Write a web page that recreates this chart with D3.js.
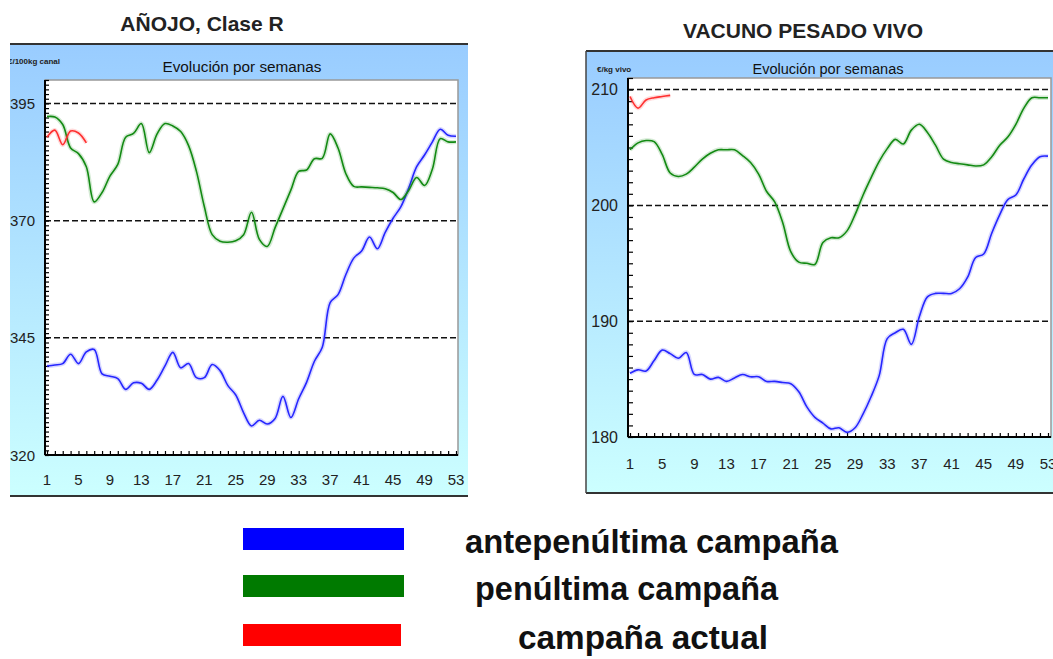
<!DOCTYPE html>
<html>
<head>
<meta charset="utf-8">
<script src="https://cdn.jsdelivr.net/npm/d3@7/dist/d3.min.js"></script>
<style>
  body { margin: 0; background: #fff; }
  svg { display: block; font-family: "Liberation Sans", Arial, sans-serif; }
</style>
</head>
<body>
<svg id="chart" width="1053" height="659"></svg>
<script>
const weeks = d3.range(1, 54);
const weekLabels = [1, 5, 9, 13, 17, 21, 25, 29, 33, 37, 41, 45, 49, 53];

// AÑOJO, Clase R  (€/100kg canal)
const anojoAntepenultima = [339.0, 339.2, 339.5, 341.5, 339.5, 342.0, 342.5, 337.3, 336.8, 336.3,
  334.0, 335.4, 335.3, 334.0, 336.0, 339.0, 341.9, 338.6, 339.5, 336.5,
  336.5, 339.3, 338.0, 334.8, 332.8, 329.0, 326.2, 327.4, 326.6, 327.8,
  332.5, 328.0, 332.0, 335.5, 340.0, 343.0, 352.5, 354.2, 358.5, 362.0,
  363.5, 366.5, 364.0, 367.5, 370.5, 373.0, 377.0, 381.5, 384.0, 386.8,
  389.5, 388.2, 388.0];
const anojoPenultima = [392.2, 392.1, 390.5, 385.5, 384.3, 381.5, 374.0, 376.0, 379.5, 382.0,
  387.8, 388.6, 390.7, 384.5, 388.5, 390.7, 390.2, 389.0, 386.0, 380.5,
  373.0, 367.0, 365.6, 365.4, 365.7, 367.0, 371.8, 366.0, 364.5, 368.5,
  372.5, 376.5, 380.5, 380.8, 383.2, 383.3, 388.5, 385.5, 380.0, 377.3,
  377.2, 377.1, 377.0, 376.8, 376.0, 374.5, 376.5, 379.2, 377.5, 381.0,
  387.5, 386.8, 386.8];
const anojoActual = [387.8, 389.3, 386.2, 389.1, 388.7, 386.6];
const anojoTicks = [320, 345, 370, 395];

// VACUNO PESADO VIVO  (€/kg vivo)
const vacunoAntepenultima = [185.5, 185.8, 185.7, 186.6, 187.5, 187.2, 186.8, 187.3, 185.4, 185.4,
  185.0, 185.15, 184.8, 185.1, 185.4, 185.2, 185.2, 184.8, 184.8, 184.7,
  184.6, 183.9, 182.6, 181.7, 181.2, 180.7, 180.8, 180.4, 180.8, 182.0,
  183.5, 185.3, 188.5, 189.0, 189.3, 188.0, 190.4, 192.1, 192.4, 192.4,
  192.4, 192.8, 193.8, 195.5, 195.8, 197.6, 199.2, 200.5, 200.9, 202.3,
  203.5, 204.2, 204.25];
const vacunoPenultima = [204.8, 205.4, 205.6, 205.5, 204.4, 202.8, 202.5, 202.7, 203.3, 204.0,
  204.5, 204.8, 204.8, 204.8, 204.3, 203.7, 202.7, 201.2, 200.3, 198.5,
  196.0, 195.1, 195.0, 194.9, 196.8, 197.2, 197.2, 197.8, 199.2, 200.9,
  202.4, 203.8, 204.9, 205.7, 205.3, 206.5, 207.0, 206.3, 205.2, 204.0,
  203.7, 203.6, 203.5, 203.4, 203.5, 204.2, 205.2, 205.9, 207.0, 208.4,
  209.3, 209.3, 209.3];
const vacunoActual = [209.4, 208.4, 209.1, 209.3, 209.4, 209.5];
const vacunoTicks = [180, 190, 200, 210];

const legendLabels = ["antepenúltima campaña", "penúltima campaña", "campaña actual"];
const seriesColors = ["#2626ff", "#138a13", "#ff3030"];
const legendColors = ["#0000ff", "#007a00", "#ff0000"];

const svg = d3.select("#chart");
const defs = svg.append("defs");

const grad = defs.append("linearGradient")
    .attr("id", "panelGrad")
    .attr("x1", 0).attr("y1", 0).attr("x2", 0).attr("y2", 1);
grad.append("stop").attr("offset", "0%").attr("stop-color", "#99ccff");
grad.append("stop").attr("offset", "100%").attr("stop-color", "#ccffff");

defs.append("clipPath").attr("id", "pageClip")
    .append("rect").attr("x", 10).attr("y", 0).attr("width", 1043).attr("height", 659);

function drawChart(cfg) {
    const g = svg.append("g").attr("clip-path", "url(#pageClip)");

    // title
    g.append("text")
        .attr("x", cfg.titleX).attr("y", cfg.titleY)
        .attr("text-anchor", "middle")
        .attr("font-size", 21).attr("font-weight", "bold").attr("fill", "#222")
        .text(cfg.title);

    // panel
    const p = cfg.panel;
    g.append("rect")
        .attr("x", p.x).attr("y", p.y).attr("width", p.w).attr("height", p.h)
        .attr("fill", "url(#panelGrad)");
    g.append("line").attr("x1", p.x).attr("x2", p.x + p.w).attr("y1", p.y).attr("y2", p.y)
        .attr("stroke", "#333").attr("stroke-width", 2);
    g.append("line").attr("x1", p.x).attr("x2", p.x + p.w).attr("y1", p.y + p.h).attr("y2", p.y + p.h)
        .attr("stroke", "#333").attr("stroke-width", 2);
    if (cfg.leftBorder) {
        g.append("line").attr("x1", p.x).attr("x2", p.x).attr("y1", p.y).attr("y2", p.y + p.h)
            .attr("stroke", "#444").attr("stroke-width", 1.5);
    }

    // subtitle and unit
    g.append("text")
        .attr("x", cfg.subX).attr("y", cfg.subY)
        .attr("text-anchor", "middle").attr("font-size", 14).attr("fill", "#111")
        .attr("textLength", cfg.subW).attr("lengthAdjust", "spacingAndGlyphs")
        .text("Evolución por semanas");
    g.append("text")
        .attr("x", cfg.unitX).attr("y", cfg.unitY)
        .attr("font-size", 8).attr("font-weight", "bold").attr("fill", "#222")
        .text(cfg.unit);

    const r = cfg.plot;
    const x = d3.scaleLinear().domain([1, 53]).range([cfg.xr[0], cfg.xr[1]]);
    const y = d3.scaleLinear().domain(cfg.yDomain).range([r.y + r.h, r.y]);

    g.append("rect")
        .attr("x", r.x).attr("y", r.y).attr("width", r.w).attr("height", r.h)
        .attr("fill", "#fff").attr("stroke", "#999").attr("stroke-width", 1.5);

    // dashed grid
    g.selectAll("line.grid")
        .data(cfg.yTicks.filter(v => v > cfg.yDomain[0]))
        .enter()
        .append("line")
        .attr("class", "grid")
        .attr("x1", r.x).attr("x2", r.x + r.w)
        .attr("y1", d => y(d)).attr("y2", d => y(d))
        .attr("stroke", "#111").attr("stroke-width", 1.5)
        .attr("stroke-dasharray", "6,3");

    // y axis with minor ticks inside
    const yAxis = d3.axisRight(y)
        .tickValues(d3.range(cfg.yDomain[0], cfg.yDomain[1] + 1))
        .tickSize(cfg.minorLen)
        .tickFormat("");
    g.append("g")
        .attr("transform", `translate(${r.x},0)`)
        .call(yAxis)
        .call(a => a.select(".domain").remove())
        .selectAll("line").attr("stroke", "#000").attr("stroke-width", 1.2);

    g.append("line").attr("x1", r.x).attr("x2", r.x).attr("y1", r.y).attr("y2", r.y + r.h)
        .attr("stroke", "#000").attr("stroke-width", 2);

    g.selectAll("text.ylab")
        .data(cfg.yTicks)
        .enter()
        .append("text")
        .attr("class", "ylab")
        .attr("x", r.x - 10).attr("y", d => y(d) + 5.5)
        .attr("text-anchor", "end").attr("font-size", cfg.yFont).attr("fill", "#222")
        .text(d => d);

    // x axis ticks
    const xAxis = d3.axisTop(x)
        .tickValues(weeks)
        .tickSize(4)
        .tickFormat("");
    g.append("g")
        .attr("transform", `translate(0,${r.y + r.h})`)
        .call(xAxis)
        .call(a => a.select(".domain").remove())
        .selectAll("line").attr("stroke", "#000").attr("stroke-width", 1.2);

    g.append("line").attr("x1", r.x).attr("x2", r.x + r.w).attr("y1", r.y + r.h).attr("y2", r.y + r.h)
        .attr("stroke", "#000").attr("stroke-width", 2);

    g.selectAll("text.xlab")
        .data(weekLabels)
        .enter()
        .append("text")
        .attr("class", "xlab")
        .attr("x", d => x(d)).attr("y", cfg.xLabY)
        .attr("text-anchor", "middle").attr("font-size", 15).attr("fill", "#222")
        .text(d => d);

    // series
    const line = d3.line()
        .x((d, i) => x(weeks[i]))
        .y(d => y(d))
        .curve(d3.curveCatmullRom.alpha(0.5));

    const series = [cfg.ante, cfg.penul, cfg.actual];
    series.forEach(function (vals, k) {
        g.append("path")
            .attr("d", line(vals))
            .attr("fill", "none")
            .attr("stroke", seriesColors[k])
            .attr("stroke-opacity", 0.18)
            .attr("stroke-width", 4.5);
        g.append("path")
            .attr("d", line(vals))
            .attr("fill", "none")
            .attr("stroke", seriesColors[k])
            .attr("stroke-width", 1.6);
    });
}

drawChart({
    title: "AÑOJO, Clase R", titleX: 202, titleY: 31,
    panel: { x: 10, y: 44, w: 458, h: 452 }, leftBorder: false,
    subX: 242, subY: 72, subW: 159,
    unit: "€/100kg canal", unitX: 8, unitY: 64,
    plot: { x: 45, y: 80, w: 413, h: 375 },
    xr: [47, 456], yDomain: [320, 400], yTicks: anojoTicks,
    minorLen: 4, yFont: 15, xLabY: 485,
    ante: anojoAntepenultima, penul: anojoPenultima, actual: anojoActual
});

drawChart({
    title: "VACUNO PESADO VIVO", titleX: 803, titleY: 38,
    panel: { x: 586, y: 51, w: 480, h: 442 }, leftBorder: true,
    subX: 828, subY: 74, subW: 151,
    unit: "€/kg vivo", unitX: 597, unitY: 72,
    plot: { x: 628, y: 78, w: 423, h: 359 },
    xr: [630, 1048], yDomain: [180, 211], yTicks: vacunoTicks,
    minorLen: 5, yFont: 16, xLabY: 469,
    ante: vacunoAntepenultima, penul: vacunoPenultima, actual: vacunoActual
});

// legend
const legendRows = [
    { y: 528, tx: 465, tw: 373, by: 553 },
    { y: 575, tx: 475, tw: 303, by: 600 },
    { y: 624, tx: 518, tw: 250, by: 649 }
];
const legend = svg.append("g");
legend.selectAll("rect")
    .data(legendLabels)
    .enter()
    .append("rect")
    .attr("x", 243)
    .attr("y", (d, i) => legendRows[i].y)
    .attr("width", (d, i) => i === 2 ? 158 : 161)
    .attr("height", 22)
    .attr("fill", (d, i) => legendColors[i]);
legend.selectAll("text")
    .data(legendLabels)
    .enter()
    .append("text")
    .attr("x", (d, i) => legendRows[i].tx)
    .attr("y", (d, i) => legendRows[i].by)
    .attr("font-size", 34)
    .attr("font-weight", "bold")
    .attr("fill", "#111")
    .attr("textLength", (d, i) => legendRows[i].tw)
    .attr("lengthAdjust", "spacingAndGlyphs")
    .text(d => d);
</script>
</body>
</html>
